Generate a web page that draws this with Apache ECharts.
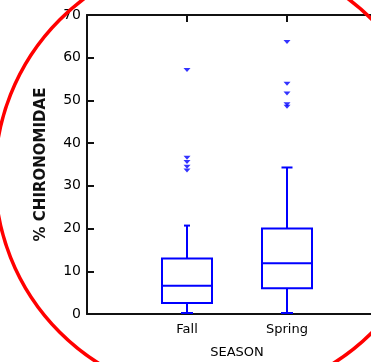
<!DOCTYPE html>
<html>
<head>
<meta charset="utf-8">
<script src="https://cdn.jsdelivr.net/npm/echarts@6/dist/echarts.min.js"></script>
<style>html,body{margin:0;padding:0;background:#fff}#c{width:371px;height:362px}</style>
</head>
<body>
<div id="c"></div>
<script>
// ---- data ----
var categories = ['', 'Fall', 'Spring', ''];
var seasons = ['Fall', 'Spring'];
var whiskerLow = [0, 0];
var q1 = [2.6, 6.0];
var median = [6.6, 11.9];
var q3 = [13.0, 20.0];
var whiskerHigh = [20.7, 34.3];
var fallOutliers = [57.1, 36.6, 35.6, 34.5, 33.6];
var springOutliers = [63.7, 53.9, 51.6, 49.1, 48.5];
var yTicks = [0, 10, 20, 30, 40, 50, 60, 70];

// ---- styles ----
var BLUE = '#0000ff';
var capWidths = [6, 11];
var boxWidth = 50;

var boxData = seasons.map(function (s, i) {
  return [s, whiskerLow[i], q1[i], median[i], q3[i], whiskerHigh[i], i];
});
var outlierData = fallOutliers.map(function (v) { return ['Fall', v]; })
  .concat(springOutliers.map(function (v) { return ['Spring', v]; }));

function renderBox(params, api) {
  var x = api.value(0);
  var pLow = api.coord([x, api.value(1)]);
  var pQ1 = api.coord([x, api.value(2)]);
  var pMed = api.coord([x, api.value(3)]);
  var pQ3 = api.coord([x, api.value(4)]);
  var pHigh = api.coord([x, api.value(5)]);
  var cx = pQ1[0];
  var hw = boxWidth / 2;
  var cw = capWidths[api.value(6)] / 2;
  var st = { stroke: BLUE, lineWidth: 2, fill: null };
  return {
    type: 'group',
    children: [
      { type: 'rect', shape: { x: cx - hw, y: pQ3[1], width: boxWidth, height: pQ1[1] - pQ3[1] }, style: st },
      { type: 'line', shape: { x1: cx - hw, y1: pMed[1], x2: cx + hw, y2: pMed[1] }, style: st },
      { type: 'line', shape: { x1: cx, y1: pQ3[1], x2: cx, y2: pHigh[1] }, style: st },
      { type: 'line', shape: { x1: cx, y1: pQ1[1], x2: cx, y2: pLow[1] }, style: st },
      { type: 'line', shape: { x1: cx - cw, y1: pHigh[1], x2: cx + cw, y2: pHigh[1] }, style: st },
      { type: 'line', shape: { x1: cx - 6, y1: pLow[1] - 1, x2: cx + 6, y2: pLow[1] - 1 }, style: st }
    ]
  };
}

var chart = echarts.init(document.getElementById('c'), null, { renderer: 'canvas' });
var font = 'DejaVu Sans';
chart.setOption({
  animation: false,
  backgroundColor: '#fff',
  grid: { left: 87, top: 15, width: 300, height: 299, containLabel: false, outerBoundsMode: 'none' },
  xAxis: [{
    type: 'category',
    data: categories,
    boundaryGap: false,
    position: 'bottom',
    name: 'SEASON',
    nameLocation: 'middle',
    nameGap: 32,
    nameTextStyle: { fontFamily: font, fontSize: 13, color: '#000' },
    axisLine: { lineStyle: { color: '#111', width: 2 } },
    axisTick: { show: false },
    axisLabel: { color: '#000', fontFamily: font, fontSize: 13, margin: 9, interval: 0 },
    splitLine: { show: false }
  }, {
    type: 'category',
    data: categories,
    boundaryGap: false,
    position: 'top',
    axisLine: { lineStyle: { color: '#111', width: 2 } },
    axisTick: { show: true, inside: true, length: 7, lineStyle: { color: '#111', width: 2 },
      interval: function (i, v) { return v !== ''; } },
    axisLabel: { show: false },
    splitLine: { show: false }
  }],
  yAxis: {
    type: 'value',
    min: 0, max: 70, interval: 10,
    name: '% CHIRONOMIDAE',
    nameLocation: 'middle',
    nameGap: 38,
    nameTextStyle: { fontFamily: font, fontSize: 15, fontWeight: 'bold', color: '#111' },
    axisLine: { show: true, lineStyle: { color: '#111', width: 2 } },
    axisTick: { show: true, inside: true, length: 7, lineStyle: { color: '#111', width: 2 } },
    axisLabel: { color: '#000', fontFamily: font, fontSize: 14, margin: 6,
      formatter: function (v) { return yTicks.indexOf(v) >= 0 ? String(v) : ''; } },
    splitLine: { show: false }
  },
  series: [{
    type: 'custom',
    renderItem: renderBox,
    encode: { x: 0, y: [1, 2, 3, 4, 5] },
    data: boxData,
    clip: false,
    z: 5
  }, {
    type: 'scatter',
    data: outlierData,
    symbol: 'path://M0,0L10,0L5,8Z',
    symbolSize: [7, 4],
    itemStyle: { color: BLUE },
    z: 6
  }],
  graphic: [{
    type: 'circle',
    shape: { cx: 216, cy: 176, r: 221 },
    style: { fill: null, stroke: '#ff0000', lineWidth: 3.5 },
    z: 100
  }]
});
</script>
</body>
</html>
